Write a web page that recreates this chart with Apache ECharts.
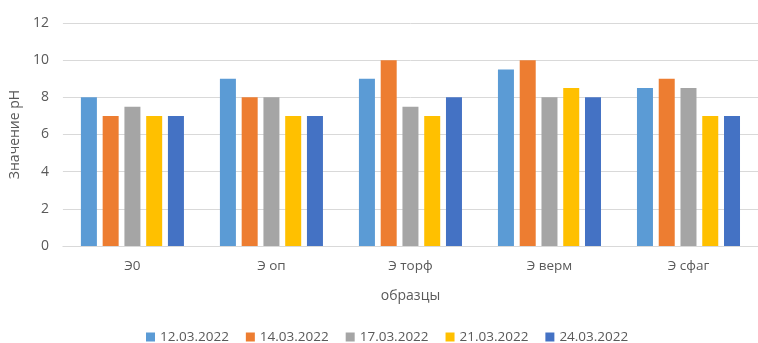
<!DOCTYPE html>
<html>
<head>
<meta charset="utf-8">
<script src="https://cdn.jsdelivr.net/npm/echarts@6/dist/echarts.min.js"></script>
<style>
  html, body { margin: 0; padding: 0; background: #fff; }
  #chart { width: 758px; height: 343px; }
</style>
</head>
<body>
<div id="chart"></div>
<script>
// Samples and measurement dates
const categories = ['Э0', 'Э оп', 'Э торф', 'Э верм', 'Э сфаг'];
const dates = ['12.03.2022', '14.03.2022', '17.03.2022', '21.03.2022', '24.03.2022'];

// pH per sample, one array per date
const ph_12_03 = [8, 9, 9, 9.5, 8.5];
const ph_14_03 = [7, 8, 10, 10, 9];
const ph_17_03 = [7.5, 8, 7.5, 8, 8.5];
const ph_21_03 = [7, 7, 7, 8.5, 7];
const ph_24_03 = [7, 7, 8, 8, 7];

const seriesValues = [ph_12_03, ph_14_03, ph_17_03, ph_21_03, ph_24_03];
const colors = ['#5B9BD5', '#ED7D31', '#A5A5A5', '#FFC000', '#4472C4'];

const textColor = '#595959';
const font = '"Open Sans", "Liberation Sans", sans-serif';

const chart = echarts.init(document.getElementById('chart'), null, { renderer: 'canvas' });

chart.setOption({
  animation: false,
  textStyle: { fontFamily: font },
  color: colors,
  // plot area runs slightly past the right edge of the canvas
  grid: { left: 60, top: 23, width: 704, height: 223, containLabel: false },
  legend: {
    data: dates,
    top: 325,
    left: 141,
    icon: 'rect',
    itemWidth: 9,
    itemHeight: 9,
    itemGap: 17,
    textStyle: { color: textColor, fontSize: 13.5, fontFamily: font }
  },
  xAxis: {
    type: 'category',
    data: categories,
    name: 'образцы',
    nameLocation: 'middle',
    nameGap: 43,
    nameTextStyle: { color: textColor, fontSize: 14, fontFamily: font },
    axisLine: { lineStyle: { color: '#D9D9D9' } },
    axisTick: { show: false },
    axisLabel: { color: textColor, fontSize: 13.5, margin: 13, fontFamily: font }
  },
  yAxis: {
    type: 'value',
    min: 0,
    max: 12,
    interval: 2,
    name: 'Значение рН',
    nameLocation: 'middle',
    nameGap: 38,
    nameTextStyle: { color: textColor, fontSize: 14, fontFamily: font },
    axisLine: { show: false },
    axisTick: { show: false },
    axisLabel: { color: textColor, fontSize: 14, margin: 14, fontFamily: font },
    splitLine: { lineStyle: { color: '#D9D9D9' } }
  },
  series: dates.map((d, i) => ({
    name: d,
    type: 'bar',
    data: seriesValues[i],
    barWidth: 16,
    barGap: '36%',
    itemStyle: { color: colors[i] }
  }))
});
</script>
</body>
</html>
